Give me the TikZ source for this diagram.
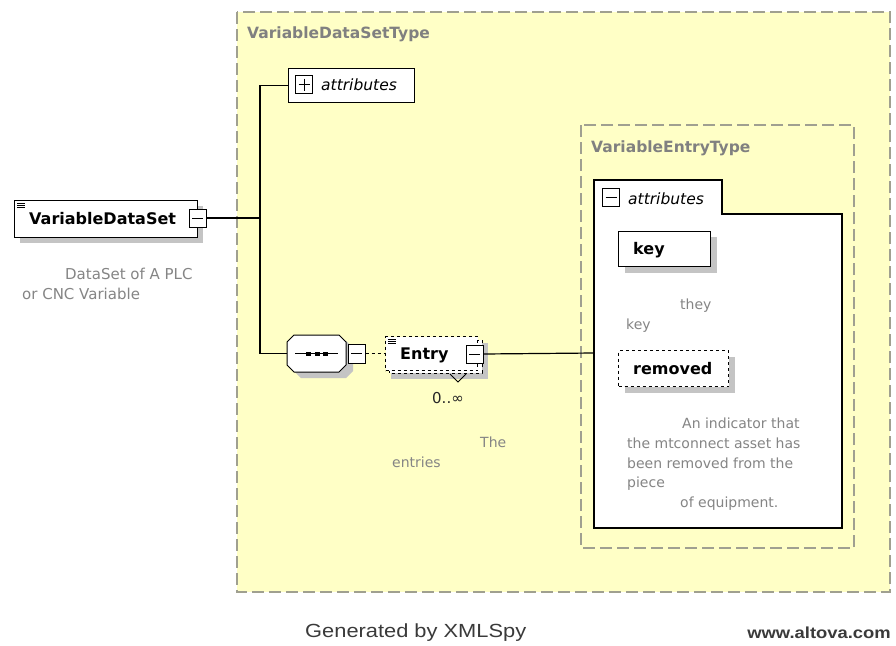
\documentclass[tikz,border=0pt]{standalone}
\usepackage{fontspec}
\setmainfont{DejaVu Sans}
\newfontfamily\footfont[FakeStretch=1.15]{Liberation Sans}
\usetikzlibrary{positioning}
\definecolor{typefill}{HTML}{FFFFC6}
\definecolor{typeline}{HTML}{A0A090}
\definecolor{docgray}{HTML}{858585}
\definecolor{shadowgray}{HTML}{C4C4C4}
\definecolor{footgray}{HTML}{3A3A3A}

\begin{document}
\begin{tikzpicture}[x=1pt,y=-1pt,
    typebox/.style={draw=typeline, dash pattern=on 12pt off 5pt, line width=1.2pt, fill=typefill},
    typelabel/.style={anchor=west, text=gray, font=\bfseries\fontsize{15.5}{18}\selectfont, inner sep=0pt},
    elem/.style={draw, fill=white, line width=1pt, inner sep=0pt},
    optelem/.style={elem, dashed},
    elemlabel/.style={anchor=west, inner sep=0pt, font=\bfseries\fontsize{16}{18}\selectfont},
    attrlabel/.style={anchor=west, inner sep=0pt, font=\itshape\fontsize{15.5}{18}\selectfont},
    docnote/.style={anchor=north west, align=left, text=docgray, inner sep=0pt, font=\fontsize{14}{19.6}\selectfont},
    btn/.style={draw, fill=white, line width=1pt, minimum width=17pt, minimum height=18pt, inner sep=0pt},
    minusbtn/.style={btn, path picture={\draw[line width=1pt] ([xshift=3pt]path picture bounding box.west) -- ([xshift=-3pt]path picture bounding box.east);}},
    plusbtn/.style={btn, path picture={\draw[line width=1pt] ([xshift=3pt]path picture bounding box.west) -- ([xshift=-3pt]path picture bounding box.east);
        \draw[line width=1pt] ([yshift=-3pt]path picture bounding box.north) -- ([yshift=3pt]path picture bounding box.south);}},
    link/.style={line width=1.2pt}]
\useasboundingbox (0,0) rectangle (896,645);
\fill[white] (0,0) rectangle (896,645);

% complex type frames
\draw[typebox] (237,12) rectangle (890,592);
\node[typelabel] (vdstype) at (247,34) {VariableDataSetType};
\draw[typebox] (581,125) rectangle (854,548);
\node[typelabel] (vetype) at (591,148) {VariableEntryType};

% root element
\fill[shadowgray] (20,206) rectangle (203,243);
\node[elem, minimum width=183pt, minimum height=37pt, anchor=north west] (vds) at (14,200) {};
\node[elemlabel] (vdslabel) at (29,219) {VariableDataSet};
\foreach \k in {0,1,2} \draw[line width=0.7pt] (17,203+2.2*\k) -- (25,203+2.2*\k);
\node[minusbtn] (vdsbtn) at (197.5,218) {};
\node[docnote, font=\fontsize{15}{19.5}\selectfont] (vdsdoc) at (22,268) {\hspace*{43pt}DataSet of A PLC\\or CNC Variable};

% attributes (collapsed)
\node[elem, minimum width=126pt, minimum height=34pt, anchor=north west] (attrs) at (288,68) {};
\node[plusbtn] (attrsbtn) at (304,84.5) {};
\node[attrlabel] (attrslabel) at (321,85) {attributes};

% sequence
\fill[shadowgray] (301,341) -- ++(45,0) -- ++(7,7) -- ++(0,23) -- ++(-7,7) -- ++(-45,0) -- ++(-7,-7) -- ++(0,-23) -- cycle;
\draw[fill=white, line width=1pt] (294,335) -- ++(45,0) -- ++(7,7) -- ++(0,23) -- ++(-7,7) -- ++(-45,0) -- ++(-7,-7) -- ++(0,-23) -- cycle;
\coordinate (seq) at (287,353.5);
\draw[line width=1pt] (295,353.5) -- (338,353.5);
\foreach \k in {306,314.5,323} \fill (\k,351.5) rectangle ++(5,4);
\node[minusbtn, minimum width=17pt, minimum height=19pt] (seqbtn) at (356.5,353.5) {};

% Entry element (repeated)
\fill[shadowgray] (391,343) rectangle (488,379);
\draw[dashed, line width=1pt, fill=white] (389,340) rectangle (482,373);
\node[optelem, minimum width=92pt, minimum height=34pt, anchor=north west] (entry) at (385,336) {};
\node[elemlabel] (entrylabel) at (400,355) {Entry};
\foreach \k in {0,1,2} \draw[line width=0.7pt] (388,339+2.2*\k) -- (396,339+2.2*\k);
\node[minusbtn, minimum width=17pt, minimum height=18pt] (entrybtn) at (474.5,354) {};
\draw[line width=1pt] (450,374) -- (458,382) -- (466,374);
\node[anchor=west, font=\fontsize{15}{17}\selectfont, text=black!85, inner sep=0pt] (entrymult) at (432,398) {0..∞};
\node[docnote] (entrydoc) at (392,437) {\hspace*{88pt}The\\entries};

% attributes (expanded)
\draw[fill=white, line width=1.2pt] (594,528) -- (594,180) -- (722,180) -- (722,214) -- (842,214) -- (842,528) -- cycle;
\node[minusbtn] (eattrbtn) at (611,197.5) {};
\node[attrlabel] (eattrs) at (628,199) {attributes};
\coordinate (eattrin) at (594,353);

% key
\fill[shadowgray] (625,237) rectangle (717,273);
\node[elem, minimum width=92pt, minimum height=35pt, anchor=north west] (key) at (618,231) {};
\node[elemlabel] (keylabel) at (633,250) {key};
\node[docnote] (keydoc) at (626,299) {\hspace*{54pt}they\\key};

% removed
\fill[shadowgray] (625,357) rectangle (735,393);
\node[optelem, minimum width=110pt, minimum height=36pt, anchor=north west] (removed) at (618,350) {};
\node[elemlabel] (removedlabel) at (633,369) {removed};
\node[docnote] (removeddoc) at (627,418) {\hspace*{55pt}An indicator that\\the mtconnect asset has\\been removed from the\\piece\\\hspace*{53pt}of equipment.};

% connectors
\coordinate (fork) at (260,218);
\draw[link] (vdsbtn.east) -- (fork);
\draw[link] (fork) |- (attrs.west);
\draw[link] (fork) |- (seq);
\draw[link, dashed] (seqbtn.east) -- (entry.west);
\draw[link] (entrybtn.east) -- (eattrin);

% footer
\node[font=\footfont\fontsize{19}{22}\selectfont, text=footgray, anchor=west, inner sep=0pt] (gen) at (305,633) {Generated by XMLSpy};
\node[font=\footfont\bfseries\fontsize{16}{20}\selectfont, text=footgray, anchor=east, inner sep=0pt] (altova) at (891,633) {www.altova.com};
\end{tikzpicture}
\end{document}
